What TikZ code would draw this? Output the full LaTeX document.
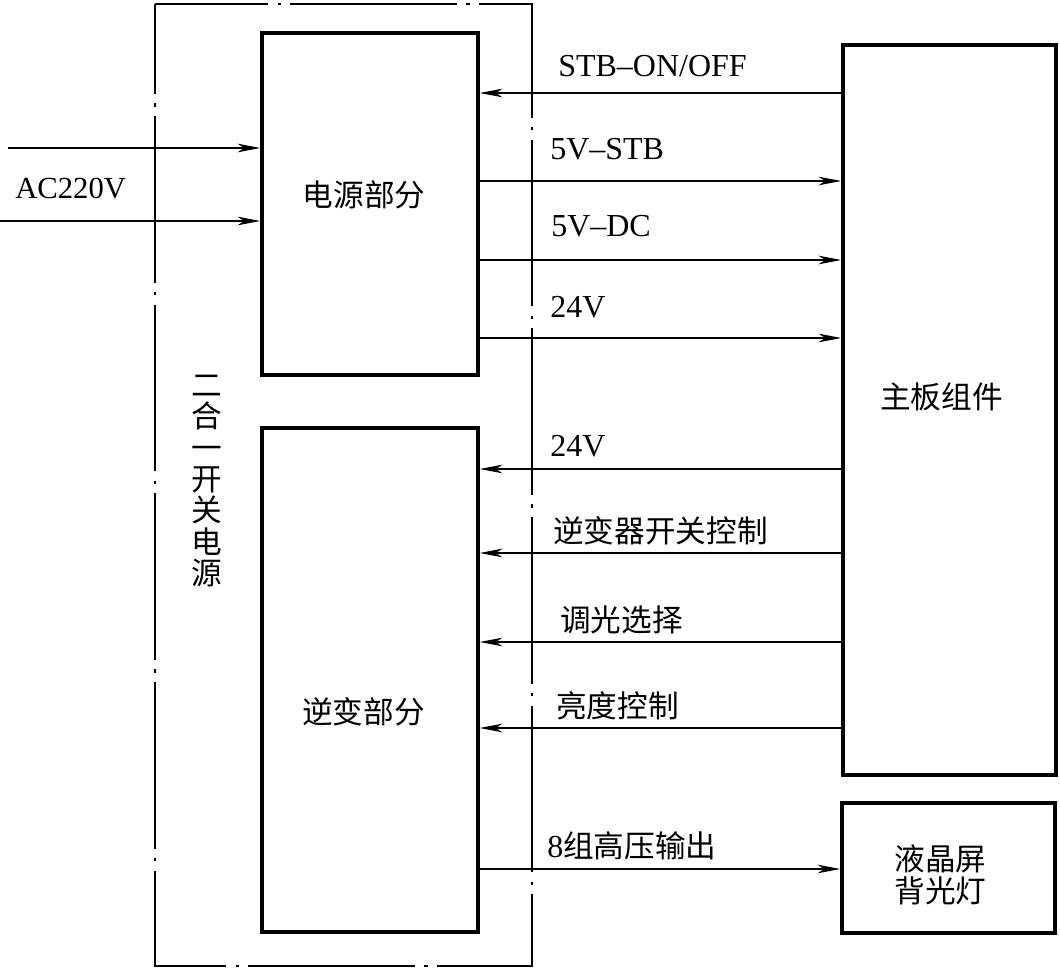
\documentclass[tikz,border=0pt]{standalone}
\usepackage{fontspec}
\setmainfont{Liberation Serif}
\newfontfamily\cjk{Noto Sans CJK SC}
\usetikzlibrary{arrows.meta,fit}
\begin{document}
\begin{tikzpicture}[x=0.75pt,y=-0.75pt,
  box/.style={draw,line width=2.7pt,inner sep=0pt},
  ctext/.style={font=\cjk\fontsize{23}{25}\selectfont,align=center,inner sep=0pt},
  arr/.style={line width=0.85pt,-{Stealth[length=17pt,width=6.5pt,inset=5pt]}},
  lbl/.style={anchor=base west,inner sep=0pt,font=\fontsize{24}{26}\selectfont},
  clbl/.style={anchor=west,inner sep=0pt,font=\cjk\fontsize{23}{25}\selectfont},
  outerline/.style={line width=1.9pt,dash pattern=on 125pt off 7pt on 2.5pt off 7pt,dash phase=40pt}]
\useasboundingbox (0,0) rectangle (1060,969);
% corners
\coordinate (o1) at (155,4); \coordinate (o2) at (532,966);
\coordinate (p1) at (262,33); \coordinate (p2) at (478,375);
\coordinate (i1) at (262,428); \coordinate (i2) at (478,932);
\coordinate (m1) at (843,45); \coordinate (m2) at (1056,775);
\coordinate (l1) at (842,803); \coordinate (l2) at (1055,933);
% outer dash-dot frame
\draw[outerline] (o1) -- (o1 -| o2) -- (o2) -- (o2 -| o1) -- cycle;
% boxes
\node[box,fit=(p1)(p2),label={[ctext,xshift=-4.5pt,yshift=7pt]center:电源部分}] (power) {};
\node[box,fit=(i1)(i2),label={[ctext,xshift=-5pt,yshift=-24pt]center:逆变部分}] (inv) {};
\node[box,fit=(m1)(m2),label={[ctext,xshift=-6pt,yshift=10pt]center:主板组件}] (main) {};
\node[box,fit=(l1)(l2),label={[ctext,xshift=-6pt,yshift=-5pt,font=\cjk\fontsize{23}{24.5}\selectfont]center:液晶屏\\背光灯}] (lcd) {};
% vertical label
\node[ctext,font=\cjk\fontsize{23}{23.5}\selectfont] (vl) at (207,481) {二\\合\\一\\开\\关\\电\\源};
% y levels
\coordinate (y1) at (0,93);
\coordinate (y2) at (0,181);
\coordinate (y3) at (0,260);
\coordinate (y4) at (0,338);
\coordinate (y5) at (0,469);
\coordinate (y6) at (0,553);
\coordinate (y7) at (0,642);
\coordinate (y8) at (0,728);
\coordinate (y9) at (0,869);
% AC inputs
\coordinate (a1) at (8,148);
\coordinate (a2) at (0,221);
\draw[arr] (a1) -- (power.west |- a1);
\draw[arr] (a2) -- (power.west |- a2);
\node[anchor=base west,inner sep=0pt,font=\fontsize{23}{25}\selectfont] (acl) at (15,199) {AC220V};
% connectors
\draw[arr] (main.west |- y1) -- (power.east |- y1);
\draw[arr] (power.east |- y2) -- (main.west |- y2);
\draw[arr] (power.east |- y3) -- (main.west |- y3);
\draw[arr] (power.east |- y4) -- (main.west |- y4);
\draw[arr] (main.west |- y5) -- (inv.east |- y5);
\draw[arr] (main.west |- y6) -- (inv.east |- y6);
\draw[arr] (main.west |- y7) -- (inv.east |- y7);
\draw[arr] (main.west |- y8) -- (inv.east |- y8);
\draw[arr] (inv.east |- y9) -- (lcd.west |- y9);
% labels
\node[lbl] (t1) at (558,77) {STB–ON/OFF};
\node[lbl] (t2) at (550,160) {5V–STB};
\node[lbl] (t3) at (551,237) {5V–DC};
\node[lbl] (t4) at (550,318) {24V};
\node[lbl] (t5) at (550,457) {24V};
\node[clbl] (t6) at (553,531) {逆变器开关控制};
\node[clbl] (t7) at (560,620) {调光选择};
\node[clbl] (t8) at (556,706) {亮度控制};
\node[anchor=west,inner sep=0pt] (t9) at (547,846) {{\fontsize{24}{26}\selectfont 8}{\cjk\fontsize{23}{25}\selectfont 组高压输出}};
\end{tikzpicture}
\end{document}
